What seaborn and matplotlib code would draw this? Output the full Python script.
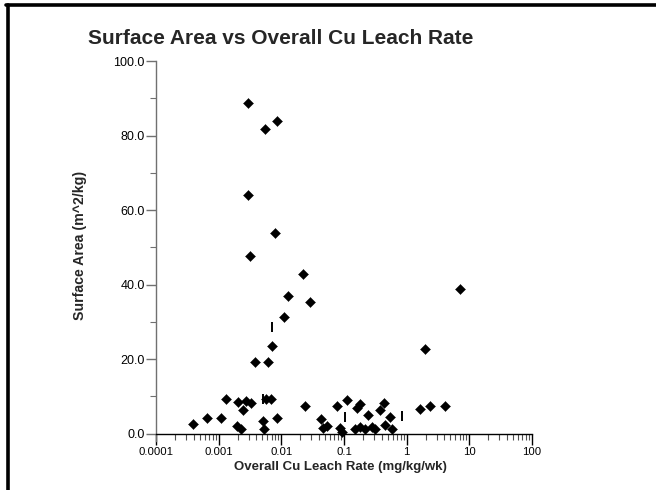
import matplotlib
matplotlib.use("Agg")
import matplotlib.pyplot as plt
from matplotlib import font_manager
from matplotlib.lines import Line2D
from matplotlib.ticker import FuncFormatter, NullFormatter, LogLocator, MultipleLocator
import pandas as pd
import seaborn as sns

# diamonds: overall Cu leach rate (mg/kg/wk) vs surface area (m^2/kg)
leach_rate = [0.00295, 0.00857, 0.00551, 0.00295, 0.00796, 0.00318, 0.0223, 0.0129,
              0.0288, 0.0111, 0.00713, 0.00381, 0.00615, 7.18, 1.98, 0.000386,
              0.000646, 0.00109, 0.00131, 0.00207, 0.00271, 0.00243, 0.00199, 0.00225,
              0.0033, 0.00561, 0.00675, 0.024, 0.077, 0.11, 0.00506, 0.00848,
              0.00537, 0.0433, 0.0533, 0.0454, 0.0869, 0.0925, 0.161, 0.177,
              0.246, 0.378, 0.438, 0.533, 0.455, 0.582, 1.61, 2.38,
              4.14, 0.151, 0.182, 0.218, 0.284, 0.315]
surface_area = [88.7, 83.9, 81.7, 64.0, 53.8, 47.6, 42.8, 36.9,
                35.3, 31.3, 23.5, 19.2, 19.2, 38.8, 22.7, 2.5,
                4.1, 4.2, 9.2, 8.5, 8.8, 6.2, 1.9, 1.1,
                8.1, 9.3, 9.3, 7.5, 7.5, 9.0, 3.4, 4.1,
                1.2, 3.8, 2.1, 1.4, 1.6, 0.5, 6.8, 7.8,
                5.0, 6.3, 8.1, 4.3, 2.3, 1.1, 6.5, 7.4,
                7.5, 1.2, 1.7, 1.2, 1.7, 1.2]

# vertical bar markers
bar_rate = [0.00713, 0.00502, 0.1045, 0.84]
bar_area = [28.6, 9.3, 4.5, 4.6]

y_ticks = [0, 20, 40, 60, 80, 100]

sns.set_style("ticks")
plt.rcParams['font.family'] = ['Liberation Sans', 'DejaVu Sans']

# narrow face for the title if it is there
installed = {f.name for f in font_manager.fontManager.ttflist}
if 'Liberation Sans Narrow' in installed:
    title_font, title_size = 'Liberation Sans Narrow', 18
else:
    title_font, title_size = 'Liberation Sans', 15

df = pd.DataFrame({'rate': leach_rate, 'area': surface_area})
df_bar = pd.DataFrame({'rate': bar_rate, 'area': bar_area})

fig = plt.figure(figsize=(6.56, 4.9), dpi=100)
ax = fig.add_axes([156 / 656, 1 - 433.5 / 490, 376 / 656, 372.5 / 490])

sns.scatterplot(data=df, x='rate', y='area', marker='D', s=26, color='black',
                edgecolor='black', linewidth=0.3, clip_on=False, ax=ax)
sns.scatterplot(data=df_bar, x='rate', y='area', marker='|', s=55, color='black',
                linewidth=1.4, clip_on=False, ax=ax)

ax.set_xscale('log')
ax.set_xlim(1e-4, 1e2)
ax.set_ylim(0, 100)

ax.xaxis.set_major_locator(LogLocator(base=10, numticks=10))
ax.xaxis.set_minor_locator(LogLocator(base=10, subs=range(2, 10), numticks=20))
ax.xaxis.set_major_formatter(FuncFormatter(lambda v, _: '%g' % v))
ax.xaxis.set_minor_formatter(NullFormatter())
ax.set_yticks(y_ticks)
ax.yaxis.set_minor_locator(MultipleLocator(10))
ax.yaxis.set_major_formatter(FuncFormatter(lambda v, _: '%.1f' % v))

for s in ['top', 'right']:
    ax.spines[s].set_visible(False)
ax.spines['left'].set_color('#707070')
ax.spines['left'].set_linewidth(1.0)
ax.spines['left'].set_bounds(-2, 100)
ax.spines['bottom'].set_color('black')
ax.spines['bottom'].set_linewidth(1.0)

ax.tick_params(axis='x', which='major', length=8, width=1, color='black',
               labelsize=8.2, pad=2, labelcolor='black')
ax.tick_params(axis='x', which='minor', length=4.5, width=0.8, color='#505050')
ax.tick_params(axis='y', which='major', length=7, width=1, color='#707070',
               labelsize=9, pad=1, labelcolor='black')
ax.tick_params(axis='y', which='minor', length=4, width=0.8, color='#707070')

ax.set_xlabel('Overall Cu Leach Rate (mg/kg/wk)', fontsize=9.5, fontweight='bold')
ax.set_ylabel('Surface Area (m^2/kg)', fontsize=10.2, fontweight='bold')
ax.xaxis.set_label_coords((340 - 156) / 376, (433.5 - 461) / 372.5)
ax.yaxis.set_label_coords((87 - 156) / 376, (433.5 - 245) / 372.5)

fig.text(281 / 656, 1 - 39 / 490, 'Surface Area vs Overall Cu Leach Rate',
         ha='center', va='center', fontsize=title_size, fontweight='bold',
         family=[title_font, 'DejaVu Sans'])

# frame edges on left and top of the picture
fig.add_artist(Line2D([7.5 / 656, 7.5 / 656], [0, 1 - 5 / 490],
                      transform=fig.transFigure, color='black', lw=2.6))
fig.add_artist(Line2D([6 / 656, 1], [1 - 5 / 490, 1 - 5 / 490],
                      transform=fig.transFigure, color='black', lw=2.6))

fig.savefig('out.png', dpi=100)
